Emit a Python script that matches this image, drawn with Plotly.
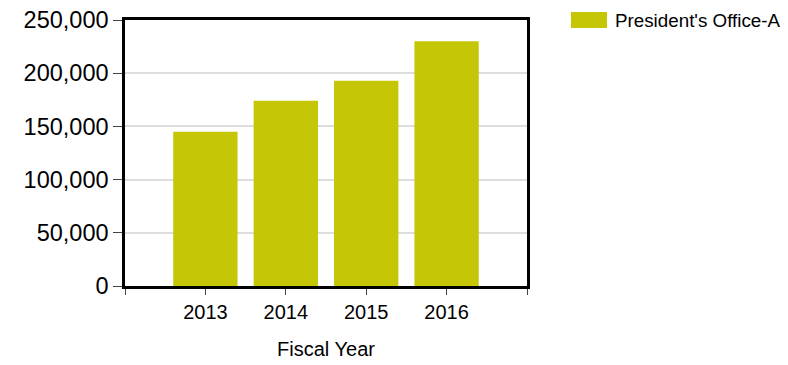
import plotly.graph_objs as go

years = [2013, 2014, 2015, 2016]
spend = [145000, 174000, 193000, 230000]
series_name = "President's Office-A"
y_ticks = [0, 50000, 100000, 150000, 200000, 250000]

bar_color = "#c4c606"
font_family = "Liberation Sans, Arial, sans-serif"

# axis ticks at every year boundary, labels only on the data years
x_tickvals = [years[0] - 1] + years + [years[-1] + 1]
x_ticktext = [""] + [str(y) for y in years] + [""]

fig = go.Figure()
fig.add_trace(go.Bar(x=years, y=spend, name=series_name,
                     marker=dict(color=bar_color, line=dict(width=0)),
                     width=0.8, showlegend=False))

# page body has an 8px margin, so the figure is a bit smaller than the window
fig.update_layout(
    width=780, height=357,
    margin=dict(l=117, r=261, t=12, b=79),
    paper_bgcolor="white", plot_bgcolor="white",
    font=dict(family=font_family, color="#000000"),
    xaxis=dict(range=[years[0] - 1, years[-1] + 1],
               tickvals=x_tickvals, ticktext=x_ticktext,
               ticks="outside", ticklen=6, tickwidth=1, tickcolor="#444444",
               tickfont=dict(size=20), automargin=False,
               showline=True, linecolor="black", linewidth=2.5, mirror=True,
               showgrid=False, zeroline=False,
               title=dict(text="Fiscal Year", font=dict(size=20), standoff=21)),
    yaxis=dict(range=[0, 250000], tickvals=y_ticks,
               tickformat=",d", automargin=False, ticklabeloverflow="allow",
               ticks="outside", ticklen=9, tickwidth=1, tickcolor="#444444",
               tickfont=dict(size=23.5),
               showline=True, linecolor="black", linewidth=2.5, mirror=True,
               showgrid=True, gridcolor="#dddddd", gridwidth=2, zeroline=False),
)

# legend drawn by hand to get the wide swatch
fig.add_shape(type="rect", xref="paper", yref="paper",
              x0=(571 - 125) / 402, x1=(607 - 125) / 402,
              y0=(286 - 28) / 266, y1=(286 - 12) / 266,
              fillcolor=bar_color, line=dict(width=0))
fig.add_annotation(text=series_name, xref="paper", yref="paper",
                   x=(613 - 125) / 402, y=(286 - 20) / 266,
                   xanchor="left", yanchor="middle", showarrow=False,
                   font=dict(size=18.8, color="#000000"))

fig.write_html("out.html")
